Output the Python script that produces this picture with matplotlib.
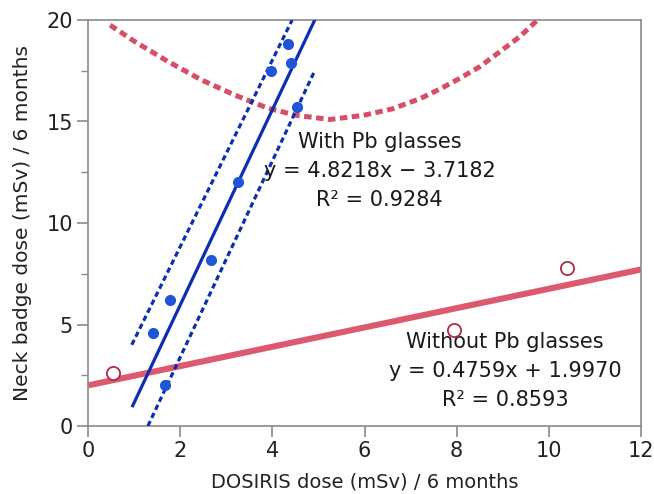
import matplotlib
matplotlib.use("Agg")
import matplotlib.pyplot as plt
from matplotlib.ticker import MultipleLocator

plt.rcParams['font.family'] = ['DejaVu Sans']

# ---- data ----
with_x = [4.35, 3.97, 4.40, 4.54, 3.26, 2.67, 1.78, 1.40, 1.67]
with_y = [18.8, 17.5, 17.9, 15.7, 12.0, 8.2, 6.2, 4.6, 2.0]

without_x = [0.55, 7.95, 10.4]
without_y = [2.6, 4.75, 7.8]

with_fit_x = [0.97, 4.92]
with_fit_y = [1.0, 20.0]
with_upper_x = [0.95, 4.43]
with_upper_y = [4.0, 20.0]
with_lower_x = [1.30, 4.92]
with_lower_y = [0.0, 17.5]

without_fit_x = [0.0, 12.0]
without_fit_y = [2.0, 7.71]
without_band_x = [0.48, 1.02, 1.74, 2.47, 3.19, 3.91, 4.53, 5.25, 5.97, 6.6,
                  7.2, 7.64, 8.07, 8.5, 8.94, 9.37, 9.73]
without_band_y = [19.75, 18.93, 17.95, 17.04, 16.3, 15.65, 15.3, 15.1, 15.3, 15.62,
                  16.12, 16.6, 17.13, 17.7, 18.44, 19.18, 19.95]

x_ticks = [0, 2, 4, 6, 8, 10, 12]
y_ticks = [0, 5, 10, 15, 20]

# ---- figure ----
fig = plt.figure(figsize=(6.54, 4.94), dpi=100)
ax = fig.add_axes([88/654, 1-426/494, (641-88)/654, (426-20)/494])

blue_dark = '#0b2fae'
blue_pt = '#1f55d6'
red_line = '#dd5a6e'
red_edge = '#b0294a'

ax.plot(without_fit_x, without_fit_y, color=red_line, lw=4.4, solid_capstyle='butt', zorder=2)
ax.plot(without_band_x, without_band_y, color='#d64f66', lw=3.6, dashes=(1.5, 0.9),
        dash_capstyle='butt', solid_joinstyle='round', zorder=2)

ax.plot(with_fit_x, with_fit_y, color=blue_dark, lw=2.3, zorder=3)
ax.plot(with_upper_x, with_upper_y, color=blue_dark, lw=2.3, dashes=(1.7, 1.1),
        dash_capstyle='butt', zorder=3)
ax.plot(with_lower_x, with_lower_y, color=blue_dark, lw=2.3, dashes=(1.7, 1.1),
        dash_capstyle='butt', zorder=3)

ax.plot(with_x, with_y, 'o', color=blue_pt, ms=7, mec=blue_pt, zorder=4, clip_on=False)
ax.plot(without_x, without_y, 'o', mfc='white', mec=red_edge, mew=1.3, ms=9.5, zorder=4)

ax.set_xlim(0, 12)
ax.set_ylim(0, 20)
ax.set_xticks(x_ticks)
ax.set_yticks(y_ticks)
ax.yaxis.set_minor_locator(MultipleLocator(2.5))

for s in ax.spines.values():
    s.set_color('#8a8a8a')
    s.set_linewidth(1.2)

ax.tick_params(axis='both', which='major', direction='out', length=8, width=1.2,
               color='#8a8a8a', labelsize=15, labelcolor='#222222', pad=3)
ax.tick_params(axis='y', which='minor', direction='out', length=5, width=1.0, color='#8a8a8a')

ax.set_xlabel('DOSIRIS dose (mSv) / 6 months', fontsize=14, color='#222222', labelpad=8)
ax.set_ylabel('Neck badge dose (mSv) / 6 months', fontsize=14.5, color='#222222', labelpad=10)

ax.text(6.33, 12.55, 'With Pb glasses\ny = 4.8218x − 3.7182\nR² = 0.9284',
        ha='center', va='center', fontsize=15, color='#1a1a1a', linespacing=1.55)
ax.text(9.05, 2.7, 'Without Pb glasses\ny = 0.4759x + 1.9970\nR² = 0.8593',
        ha='center', va='center', fontsize=15, color='#1a1a1a', linespacing=1.55)

fig.savefig('out.png', dpi=100)
